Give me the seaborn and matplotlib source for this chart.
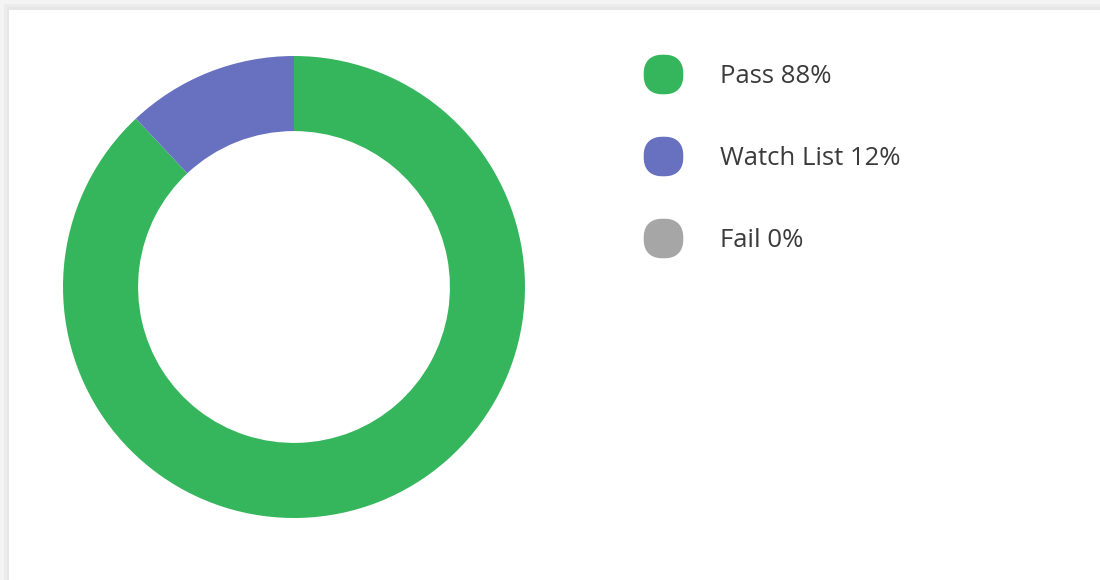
#!/usr/bin/env python3
import numpy as np
import seaborn as sns
import matplotlib.pyplot as plt
from matplotlib.lines import Line2D
from matplotlib.patches import Rectangle

labels = ['Pass', 'Watch List', 'Fail']
values = [88, 12, 0]
colors = ['#35b65c', '#6870c0', '#a6a6a6']

sns.set_theme(style='white')
plt.rcParams['font.family'] = ['Open Sans', 'DejaVu Sans']

fig = plt.figure(figsize=(11, 5.8), dpi=100)  # 1100x580 px
fig.set_facecolor('#f4f4f4')

# card with a soft shadow on the top/left edge
for x0, top, fc in [(0.004, 0.993, '#ececec'), (0.0064, 0.988, '#e6e6e6'),
                    (9 / 1100, 1 - 10 / 580, 'white')]:
    fig.patches.append(Rectangle((x0, 0), 1, top, transform=fig.transFigure,
                                 facecolor=fc, edgecolor='none', zorder=-5))

ax = fig.add_axes([63 / 1100, 62 / 580, 462 / 1100, 462 / 580])
ax.set_zorder(2)
ax.pie(values, colors=sns.color_palette(colors), startangle=90, counterclock=False,
       wedgeprops=dict(width=0.325, linewidth=0), radius=1)
ax.set_xlim(-1, 1)
ax.set_ylim(-1, 1)
ax.set_aspect('equal')
ax.axis('off')

# rounded blob for the legend (softened superellipse)
t = np.linspace(0, 2 * np.pi, 80)
blob = np.column_stack([np.sign(np.cos(t)) * np.abs(np.cos(t)) ** 0.82,
                        np.sign(np.sin(t)) * np.abs(np.sin(t)) ** 0.82])

handles = [Line2D([], [], marker=blob, ls='', markersize=28.5, color=c, markeredgewidth=0)
           for c in colors]
texts = [f'{l} {v}%' for l, v in zip(labels, values)]
leg = fig.legend(handles, texts, loc='upper left', bbox_to_anchor=(0.5852, 0.8903),
                 frameon=False, fontsize=18.5, labelcolor='#3b3b3b',
                 handlelength=1.5, handletextpad=1.47, labelspacing=2.23,
                 borderpad=0, borderaxespad=0)
leg.set_zorder(3)

plt.savefig('out.png', dpi=100, facecolor=fig.get_facecolor())
